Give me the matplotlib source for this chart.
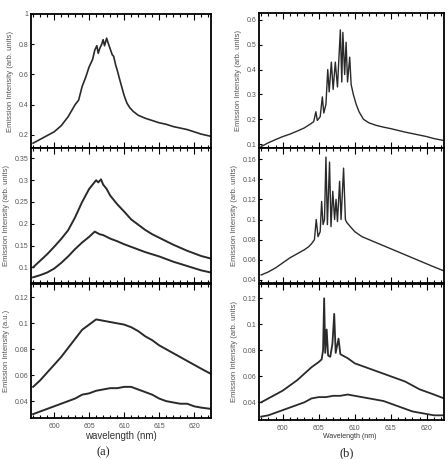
# -*- coding: utf-8 -*-
"""
    Emission spectra, (a) three stacked panels and (b) three stacked panels.
"""
import matplotlib
matplotlib.use("Agg")
import matplotlib.pyplot as plt
from matplotlib.ticker import MultipleLocator, FuncFormatter

# ---- (a) top panel
a1_wl = [597, 598, 599, 600, 601, 602, 603, 603.5, 604, 604.5, 605, 605.5,
         605.8, 606.1, 606.3, 606.5, 606.8, 607.0, 607.2, 607.5, 607.7, 608.0,
         608.3, 608.5, 608.8, 609.0, 609.4, 609.7, 610.0, 610.4, 610.8, 611.3,
         612, 613, 614, 615, 616, 617, 618, 619, 620, 621, 622.4]
a1_val = [0.145, 0.17, 0.195, 0.22, 0.26, 0.32, 0.40, 0.43, 0.52, 0.58, 0.65,
          0.70, 0.76, 0.79, 0.74, 0.77, 0.80, 0.83, 0.79, 0.84, 0.81, 0.77,
          0.73, 0.72, 0.66, 0.63, 0.56, 0.51, 0.46, 0.41, 0.38, 0.355, 0.33,
          0.31, 0.295, 0.28, 0.27, 0.255, 0.245, 0.235, 0.22, 0.205, 0.19]

# ---- (a) middle panel, two curves
a2u_wl = [597, 598, 599, 600, 601, 602, 603, 604, 604.5, 605, 605.5, 606,
          606.3, 606.7, 607, 607.5, 608, 609, 610, 611, 612, 613, 614, 615,
          616, 617, 618, 619, 620, 621, 622.4]
a2u_val = [0.10, 0.115, 0.13, 0.147, 0.165, 0.185, 0.215, 0.25, 0.265, 0.28,
           0.29, 0.30, 0.295, 0.302, 0.29, 0.28, 0.265, 0.245, 0.228, 0.21,
           0.198, 0.186, 0.176, 0.168, 0.16, 0.152, 0.145, 0.138, 0.132,
           0.126, 0.12]
a2l_wl = [597, 598, 599, 600, 601, 602, 603, 604, 605, 605.8, 606.5, 607,
          608, 609, 610, 611, 612, 613, 614, 615, 616, 617, 618, 619, 620,
          621, 622.4]
a2l_val = [0.077, 0.082, 0.088, 0.097, 0.11, 0.125, 0.142, 0.157, 0.17, 0.182,
           0.176, 0.174, 0.166, 0.16, 0.153, 0.147, 0.141, 0.135, 0.13, 0.125,
           0.119, 0.113, 0.108, 0.103, 0.098, 0.093, 0.088]

# ---- (a) bottom panel, two curves
a3_wl = [597, 598, 599, 600, 601, 602, 603, 604, 605, 606, 607, 608, 609,
         610, 611, 612, 613, 614, 615, 616, 617, 618, 619, 620, 621, 622.4]
a3u_val = [0.051, 0.056, 0.062, 0.068, 0.074, 0.081, 0.088, 0.095, 0.099,
           0.103, 0.102, 0.101, 0.100, 0.099, 0.097, 0.094, 0.090, 0.087,
           0.083, 0.080, 0.077, 0.074, 0.071, 0.068, 0.065, 0.061]
a3l_val = [0.030, 0.032, 0.034, 0.036, 0.038, 0.040, 0.042, 0.045, 0.046,
           0.048, 0.049, 0.050, 0.050, 0.051, 0.051, 0.049, 0.047, 0.045,
           0.042, 0.040, 0.039, 0.038, 0.038, 0.036, 0.035, 0.034]

# ---- (b) top panel
b1_wl = [597, 598, 599, 600, 601, 602, 603, 603.8, 604.3, 604.6, 604.8,
         605.2, 605.5, 605.7, 606.0, 606.25, 606.45, 606.75, 607.0, 607.3,
         607.6, 608.0, 608.2, 608.35, 608.6, 608.8, 609.0, 609.3, 609.5,
         609.8, 610.2, 610.6, 611.2, 612, 613, 614, 615, 616, 617, 618, 619,
         620, 621, 622.4]
b1_val = [0.09, 0.105, 0.118, 0.13, 0.14, 0.152, 0.165, 0.18, 0.19, 0.23,
          0.195, 0.21, 0.29, 0.225, 0.26, 0.40, 0.31, 0.43, 0.32, 0.43, 0.33,
          0.56, 0.35, 0.55, 0.38, 0.51, 0.35, 0.45, 0.34, 0.30, 0.26, 0.23,
          0.20, 0.185, 0.175, 0.168, 0.162, 0.155, 0.148, 0.142, 0.136, 0.13,
          0.122, 0.114]

# ---- (b) middle panel
b2_wl = [597, 598, 599, 600, 601, 602, 603, 603.6, 604, 604.4, 604.65, 604.9,
         605.2, 605.4, 605.6, 605.8, 606.0, 606.2, 606.5, 606.7, 606.95,
         607.2, 607.4, 607.6, 607.9, 608.1, 608.45, 608.7, 608.9, 609.5, 610,
         611, 612, 613, 614, 615, 616, 617, 618, 619, 620, 621, 622.4]
b2_val = [0.045, 0.048, 0.052, 0.057, 0.062, 0.066, 0.070, 0.073, 0.076,
          0.080, 0.100, 0.083, 0.088, 0.118, 0.095, 0.10, 0.162, 0.095, 0.157,
          0.093, 0.128, 0.10, 0.12, 0.098, 0.138, 0.10, 0.151, 0.10, 0.097,
          0.092, 0.088, 0.083, 0.080, 0.077, 0.074, 0.071, 0.068, 0.065,
          0.062, 0.059, 0.056, 0.053, 0.049]

# ---- (b) bottom panel, two curves
b3u_wl = [597, 598, 599, 600, 601, 602, 603, 604, 605, 605.4, 605.6, 605.75,
          605.9, 606.1, 606.3, 606.6, 606.9, 607.15, 607.35, 607.75, 608.0,
          609, 610, 611, 612, 613, 614, 615, 616, 617, 618, 619, 620, 621,
          622.4]
b3u_val = [0.040, 0.043, 0.046, 0.049, 0.053, 0.057, 0.062, 0.067, 0.071,
           0.073, 0.080, 0.120, 0.078, 0.096, 0.076, 0.075, 0.085, 0.108,
           0.078, 0.089, 0.077, 0.074, 0.070, 0.068, 0.066, 0.064, 0.062,
           0.060, 0.058, 0.056, 0.053, 0.050, 0.048, 0.046, 0.043]
b3l_wl = [597, 598, 599, 600, 601, 602, 603, 604, 605, 606, 607, 608, 609,
          610, 611, 612, 613, 614, 615, 616, 617, 618, 619, 620, 621, 622.4]
b3l_val = [0.029, 0.030, 0.032, 0.034, 0.036, 0.038, 0.040, 0.043, 0.044,
           0.044, 0.045, 0.045, 0.046, 0.045, 0.044, 0.043, 0.042, 0.041,
           0.039, 0.037, 0.035, 0.033, 0.032, 0.031, 0.030, 0.030]

YLAB = "Emission Intensity (arb. units)"
TXT = "#555555"
LINE = "#2a2a2a"
SANS = "Liberation Sans"

fig = plt.figure(figsize=(4.48, 4.59), dpi=100)


def make_axes(rect, ylim, ystep, ylabel, bottom):
    ax = fig.add_axes(rect)
    ax.set_xlim(596.7, 622.4)
    ax.set_ylim(*ylim)
    ax.xaxis.set_major_locator(MultipleLocator(5))
    ax.xaxis.set_minor_locator(MultipleLocator(1))
    ax.yaxis.set_major_locator(MultipleLocator(ystep))
    ax.yaxis.set_major_formatter(FuncFormatter(lambda v, p: "%g" % round(v, 4)))
    ax.tick_params(axis="both", which="both", direction="in", top=True,
                   colors="black", labelcolor=TXT, labelsize=5, width=0.8)
    ax.tick_params(axis="x", which="major", length=4)
    ax.tick_params(axis="x", which="minor", length=2)
    ax.tick_params(axis="y", which="major", length=2.5, pad=2)
    if not bottom:
        ax.tick_params(axis="x", labelbottom=False)
    for s in ax.spines.values():
        s.set_linewidth(1.3)
    for lab in ax.get_xticklabels() + ax.get_yticklabels():
        lab.set_fontfamily(SANS)
    ax.set_ylabel(ylabel, fontsize=5.5, color=TXT, family=SANS, labelpad=3)
    return ax


lx, lw_ = 31 / 448, 180 / 448
rx, rw = 259 / 448, 185 / 448

ax = make_axes([lx, 1 - 148 / 459, lw_, 134 / 459], (0.113, 1.0), 0.2, YLAB, False)
ax.plot(a1_wl, a1_val, color=LINE, lw=1.2)

ax = make_axes([lx, 1 - 283 / 459, lw_, 135 / 459], (0.064, 0.374), 0.05, YLAB, False)
ax.plot(a2u_wl, a2u_val, color=LINE, lw=1.4)
ax.plot(a2l_wl, a2l_val, color=LINE, lw=1.4)

ax = make_axes([lx, 1 - 418 / 459, lw_, 134 / 459], (0.027, 0.1303), 0.02,
               "Emission Intensity (a.u.)", True)
ax.plot(a3_wl, a3u_val, color=LINE, lw=1.4)
ax.plot(a3_wl, a3l_val, color=LINE, lw=1.4)

ax = make_axes([rx, 1 - 148 / 459, rw, 135 / 459], (0.084, 0.628), 0.1, YLAB, False)
ax.plot(b1_wl, b1_val, color=LINE, lw=1.0)

ax = make_axes([rx, 1 - 283 / 459, rw, 135 / 459], (0.037, 0.171), 0.02, YLAB, False)
ax.plot(b2_wl, b2_val, color=LINE, lw=1.0)

ax = make_axes([rx, 1 - 420 / 459, rw, 136 / 459], (0.0264, 0.131), 0.02, YLAB, True)
ax.plot(b3u_wl, b3u_val, color=LINE, lw=1.3)
ax.plot(b3l_wl, b3l_val, color=LINE, lw=1.3)

fig.text(121 / 448, 1 - 436 / 459, "wavelength (nm)", ha="center", va="center",
         fontsize=7, color="#333333", family=SANS)
fig.text(350 / 448, 1 - 437 / 459, "Wavelength (nm)", ha="center", va="center",
         fontsize=5, color="#333333", family=SANS)
fig.text(103 / 448, 1 - 452 / 459, "(a)", ha="center", va="center",
         fontsize=9, color="#222222", family="Liberation Serif")
fig.text(347 / 448, 1 - 453 / 459, "(b)", ha="center", va="center",
         fontsize=9, color="#222222", family="Liberation Serif")

fig.savefig("out.png", dpi=100)
